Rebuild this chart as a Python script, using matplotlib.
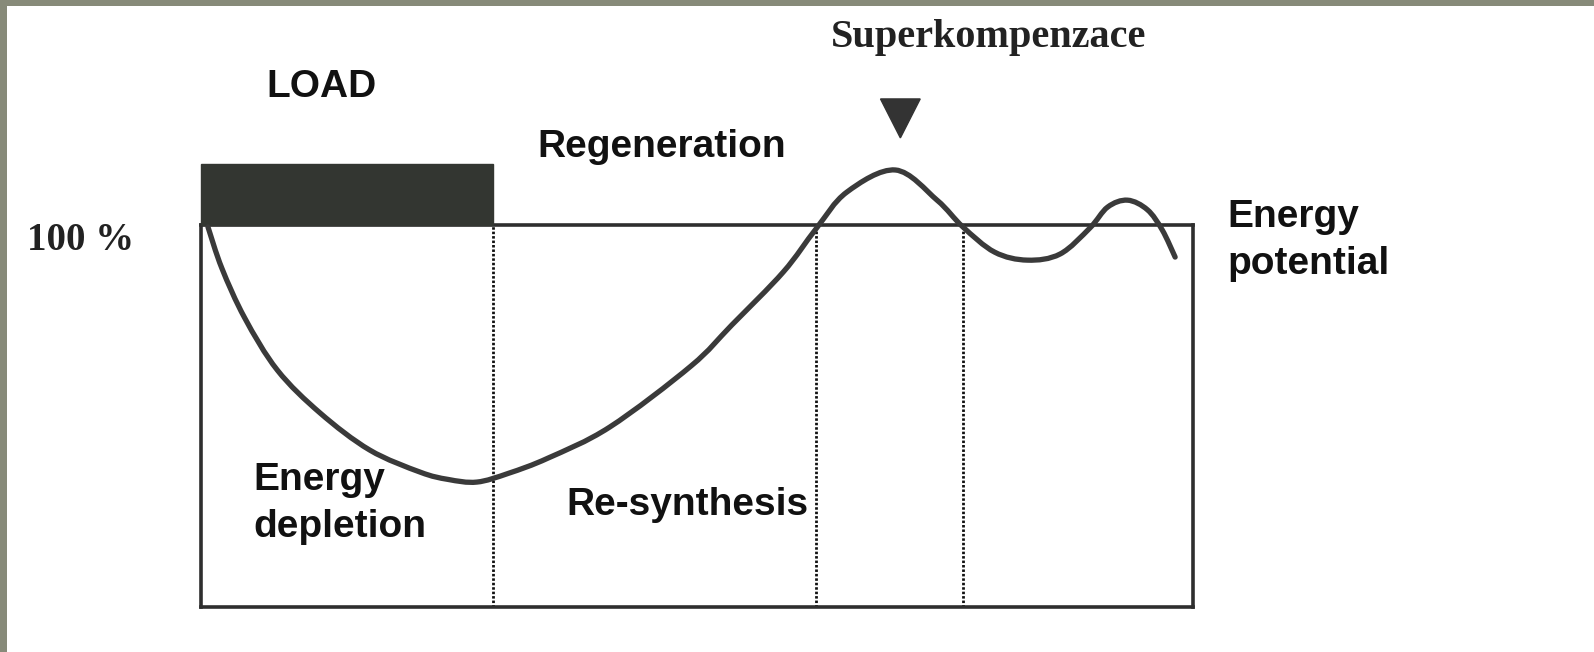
import matplotlib
matplotlib.use("Agg")
import matplotlib.pyplot as plt
from matplotlib.patches import Rectangle, Polygon, PathPatch
from matplotlib.path import Path

# ---- data (time in % of the plotted period, energy potential in %) ----
phase_bounds = [29.4, 62.0, 76.8]          # end of load, end of re-synthesis, end of supercompensation
load_end = 29.4
load_bar_height = 16.0                       # drawn above the 100 % line

curve_t = [0.7, 2.1, 4.4, 7.7, 12.0, 17.0, 22.1, 24.9, 27.8, 31.0, 35.0, 41.2, 49.4, 53.5,
           58.7, 62.0, 65.1, 70.0, 74.2, 76.8, 80.0, 83.3, 86.6, 89.6, 91.4, 93.4, 95.4,
           96.9, 98.2]
curve_e = [99.5, 88.7, 75.7, 62.0, 50.8, 41.1, 35.3, 33.4, 32.7, 35.0, 39.0, 47.1, 63.1, 73.8,
           87.7, 99.0, 108.6, 114.4, 106.5, 99.5, 92.9, 90.8, 92.4, 99.2, 104.7, 106.5, 104.0,
           98.7, 91.6]

marker_t = 70.5
marker_top, marker_bottom, marker_halfwidth = 133.0, 122.8, 2.0

# ---- figure ----
W, H = 1594, 652
fig = plt.figure(figsize=(W / 100, H / 100), dpi=100, facecolor="white")

# scanned-page grey border (top and left)
fig.patches.append(Rectangle((0, 1 - 6 / H), 1, 6 / H, transform=fig.transFigure,
                             facecolor="#878a79", edgecolor="none", zorder=0))
fig.patches.append(Rectangle((0, 0), 7 / W, 1, transform=fig.transFigure,
                             facecolor="#878a79", edgecolor="none", zorder=0))

ax = fig.add_axes([201 / W, 45 / H, 992 / W, 382 / H])
ax.set_xlim(0, 100)
ax.set_ylim(0, 100)
ax.set_xticks([])
ax.set_yticks([])
ax.patch.set_alpha(0)
for s in ax.spines.values():
    s.set_linewidth(2.6)
    s.set_color("#2e2e2e")

# load bar above 100 %
ax.add_patch(Rectangle((0, 100), load_end, load_bar_height, facecolor="#333631",
                       edgecolor="#333631", clip_on=False, zorder=3))

# dotted phase boundaries
for b in phase_bounds:
    ax.plot([b, b], [0, 100], color="#111111", lw=2.0, linestyle=(0, (0.9, 0.7)),
            solid_capstyle="butt", zorder=2)

# energy curve: smooth Bezier path passing through the read points (Catmull-Rom rendering)
pts = list(zip(curve_t, curve_e))
verts = [pts[0]]
codes = [Path.MOVETO]
n = len(pts)
for i in range(n - 1):
    p0 = pts[i - 1] if i > 0 else pts[i]
    p1 = pts[i]
    p2 = pts[i + 1]
    p3 = pts[i + 2] if i + 2 < n else pts[i + 1]
    c1 = (p1[0] + (p2[0] - p0[0]) / 6, p1[1] + (p2[1] - p0[1]) / 6)
    c2 = (p2[0] - (p3[0] - p1[0]) / 6, p2[1] - (p3[1] - p1[1]) / 6)
    verts += [c1, c2, p2]
    codes += [Path.CURVE4] * 3
ax.add_patch(PathPatch(Path(verts, codes), facecolor="none", edgecolor="#3a3a3a", lw=3.8,
                       capstyle="round", joinstyle="round", clip_on=False, zorder=4))

# supercompensation marker
ax.add_patch(Polygon([[marker_t - marker_halfwidth, marker_top],
                      [marker_t + marker_halfwidth, marker_top],
                      [marker_t, marker_bottom]], closed=True, facecolor="#333333",
                     edgecolor="#333333", clip_on=False, zorder=4))

sans = "Liberation Sans"
serif = "Liberation Serif"
tc = "#111111"
fs = 28

ax.text(12.1, 133.5, "LOAD", family=sans, weight="bold", fontsize=fs, color=tc,
        ha="center", va="baseline", clip_on=False)
ax.text(33.9, 117.8, "Regeneration", family=sans, weight="bold", fontsize=fs, color=tc,
        ha="left", va="baseline", clip_on=False)
ax.text(79.4, 146.6, "Superkompenzace", family=serif, weight="bold", fontsize=29,
        color="#222222", ha="center", va="baseline", clip_on=False)
ax.text(-17.5, 93.5, "100 %", family=serif, weight="bold", fontsize=28, color="#222222",
        ha="left", va="baseline", clip_on=False)
ax.text(103.5, 99.5, "Energy", family=sans, weight="bold", fontsize=fs, color=tc,
        ha="left", va="baseline", clip_on=False)
ax.text(103.5, 87.2, "potential", family=sans, weight="bold", fontsize=fs, color=tc,
        ha="left", va="baseline", clip_on=False)
ax.text(5.3, 30.6, "Energy", family=sans, weight="bold", fontsize=fs, color=tc,
        ha="left", va="baseline")
ax.text(5.3, 18.3, "depletion", family=sans, weight="bold", fontsize=fs, color=tc,
        ha="left", va="baseline")
ax.text(36.8, 24.1, "Re-synthesis", family=sans, weight="bold", fontsize=fs, color=tc,
        ha="left", va="baseline")

fig.savefig("out.png", dpi=100, facecolor="white")
